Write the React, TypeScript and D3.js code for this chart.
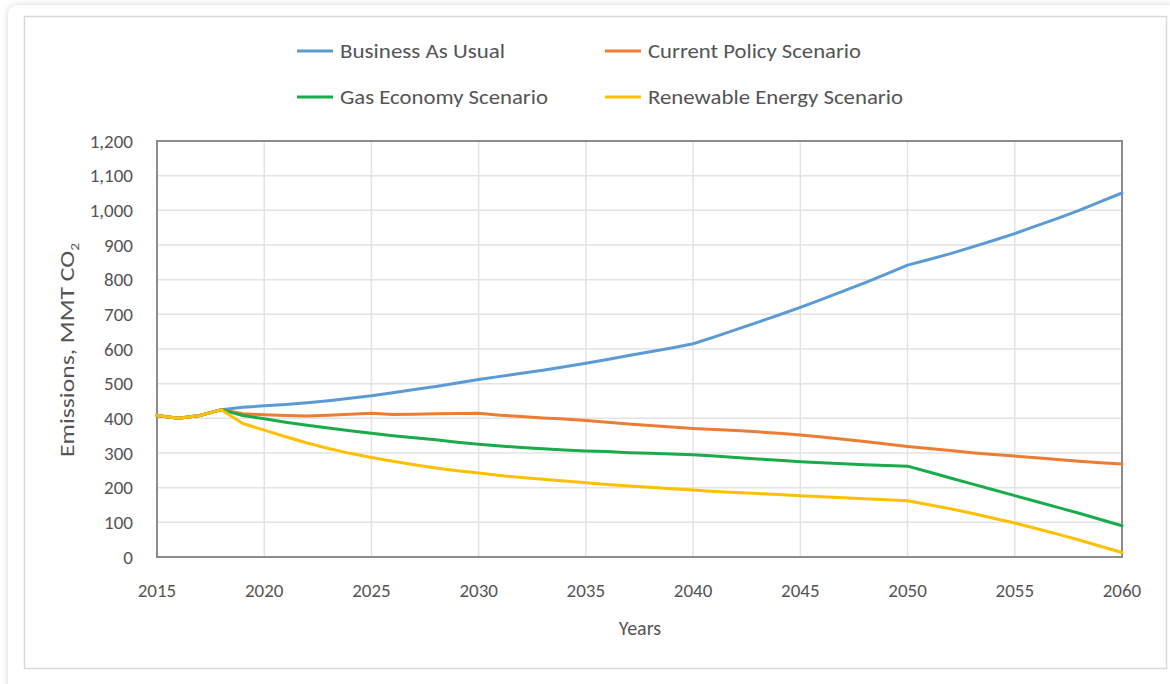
import * as d3 from 'd3'

// years 2015..2060, one value per year
const years: number[] = d3.range(2015, 2061)

const businessAsUsual = [
    408, 400, 408, 425, 432, 436, 440, 445, 451, 458, 465, 474, 483, 492, 502,
    512, 521, 530, 539, 549, 559, 570, 581, 592, 603, 615, 635, 656, 677, 698,
    720, 743, 767, 791, 816, 842, 858, 875, 894, 913, 933, 955, 977, 1000, 1025,
    1050,
]
const currentPolicy = [
    408, 400, 408, 425, 413, 410, 408, 407, 409, 412, 415, 411, 412, 413, 414,
    415, 409, 405, 401, 398, 394, 389, 384, 379, 375, 371, 368, 365, 361, 357,
    352, 346, 340, 333, 326, 319, 313, 307, 301, 296, 291, 286, 281, 276, 272,
    268,
]
const gasEconomy = [
    408, 400, 408, 425, 408, 399, 389, 380, 372, 364, 357, 350, 344, 338, 331,
    325, 320, 316, 312, 309, 306, 304, 301, 299, 297, 295, 291, 287, 283, 279,
    275, 272, 269, 266, 264, 262, 245, 228, 211, 194, 177, 160, 143, 126, 108,
    90,
]
const renewableEnergy = [
    408, 400, 408, 425, 385, 366, 347, 329, 313, 299, 287, 276, 266, 257, 249,
    242, 235, 229, 224, 219, 214, 209, 205, 201, 197, 193, 189, 186, 183, 180,
    177, 174, 171, 168, 165, 162, 151, 139, 126, 112, 98, 82, 66, 49, 31, 13,
]

const seriesNames = [
    'Business As Usual',
    'Current Policy Scenario',
    'Gas Economy Scenario',
    'Renewable Energy Scenario',
]
const seriesValues = [businessAsUsual, currentPolicy, gasEconomy, renewableEnergy]
const seriesColors = ['#5b9bd5', '#ed7d31', '#1aab4b', '#ffc000']
// widths the legend labels take in the reference
const legendTextWidths = [165, 213, 208, 255]

const yTicks = d3.range(0, 1201, 100)
const xTicks = d3.range(2015, 2061, 5)

const W = 1170
const H = 684
const plot = { left: 157, right: 1122, top: 141, bottom: 557 }
const font = 'Calibri, Carlito, Lato, "Open Sans", sans-serif'
const textColor = '#555555'

export default function App() {
    const x = d3.scaleLinear().domain([2015, 2060]).range([plot.left, plot.right])
    const y = d3.scaleLinear().domain([0, 1200]).range([plot.bottom, plot.top])
    const line = d3
        .line<number>()
        .x((_, i) => x(years[i]))
        .y(d => y(d))

    const fmt = d3.format(',')

    // legend: 2 columns x 2 rows
    const legendX = [297, 605]
    const legendY = [51, 97]

    return (
        <svg
            width={W}
            height={H}
            style={{ position: 'absolute', left: 0, top: 0, background: '#fff' }}
            fontFamily={font}
        >
            <defs>
                <filter id='shadow' x='-5%' y='-5%' width='110%' height='110%'>
                    <feDropShadow dx='0' dy='0' stdDeviation='3' floodColor='#000' floodOpacity='0.18' />
                </filter>
            </defs>
            <rect x={8} y={5} width={1170} height={690} rx={10} fill='#fff' filter='url(#shadow)' />
            {/* chart area border */}
            <rect x={24.5} y={16.5} width={1142} height={652} fill='#fff' stroke='#d9d9d9' strokeWidth={1.5} />

            {/* gridlines */}
            {yTicks.map(t => (
                <line key={'gy' + t} x1={plot.left} x2={plot.right} y1={y(t)} y2={y(t)} stroke='#e3e3e3' strokeWidth={1.5} />
            ))}
            {xTicks.map(t => (
                <line key={'gx' + t} x1={x(t)} x2={x(t)} y1={plot.top} y2={plot.bottom} stroke='#e3e3e3' strokeWidth={1.5} />
            ))}

            {/* plot frame */}
            <rect
                x={plot.left}
                y={plot.top}
                width={plot.right - plot.left}
                height={plot.bottom - plot.top}
                fill='none'
                stroke='#8c8c8c'
                strokeWidth={2}
            />

            {/* series */}
            {seriesValues.map((vals, i) => (
                <path
                    key={seriesNames[i]}
                    d={line(vals) ?? ''}
                    fill='none'
                    stroke={seriesColors[i]}
                    strokeWidth={3}
                    strokeLinejoin='round'
                    strokeLinecap='round'
                />
            ))}

            {/* y tick labels */}
            {yTicks.map(t => (
                <text key={'ty' + t} x={133} y={y(t)} dy='0.35em' textAnchor='end' fontSize={19} fill={textColor}>
                    {fmt(t)}
                </text>
            ))}
            {/* x tick labels */}
            {xTicks.map(t => (
                <text key={'tx' + t} x={x(t)} y={590} dy='0.35em' textAnchor='middle' fontSize={19} fill={textColor}>
                    {t}
                </text>
            ))}

            {/* axis titles */}
            <text x={640} y={628} dy='0.35em' textAnchor='middle' fontSize={20} fill={textColor}>
                Years
            </text>
            <text
                transform={`translate(67, ${350}) rotate(-90)`}
                x={-107}
                dy='0.35em'
                fontSize={20}
                fill={textColor}
                textLength={214}
                lengthAdjust='spacingAndGlyphs'
            >
                Emissions, MMT CO<tspan fontSize={12} dy='5'>2</tspan>
            </text>

            {/* legend */}
            {seriesNames.map((name, i) => {
                const lx = legendX[i % 2]
                const ly = legendY[Math.floor(i / 2)]
                return (
                    <g key={'lg' + name}>
                        <line x1={lx} x2={lx + 36} y1={ly} y2={ly} stroke={seriesColors[i]} strokeWidth={3} />
                        <text
                            x={lx + 43}
                            y={ly}
                            dy='0.35em'
                            fontSize={20}
                            fill={textColor}
                            textLength={legendTextWidths[i]}
                            lengthAdjust='spacingAndGlyphs'
                        >
                            {name}
                        </text>
                    </g>
                )
            })}
        </svg>
    )
}
